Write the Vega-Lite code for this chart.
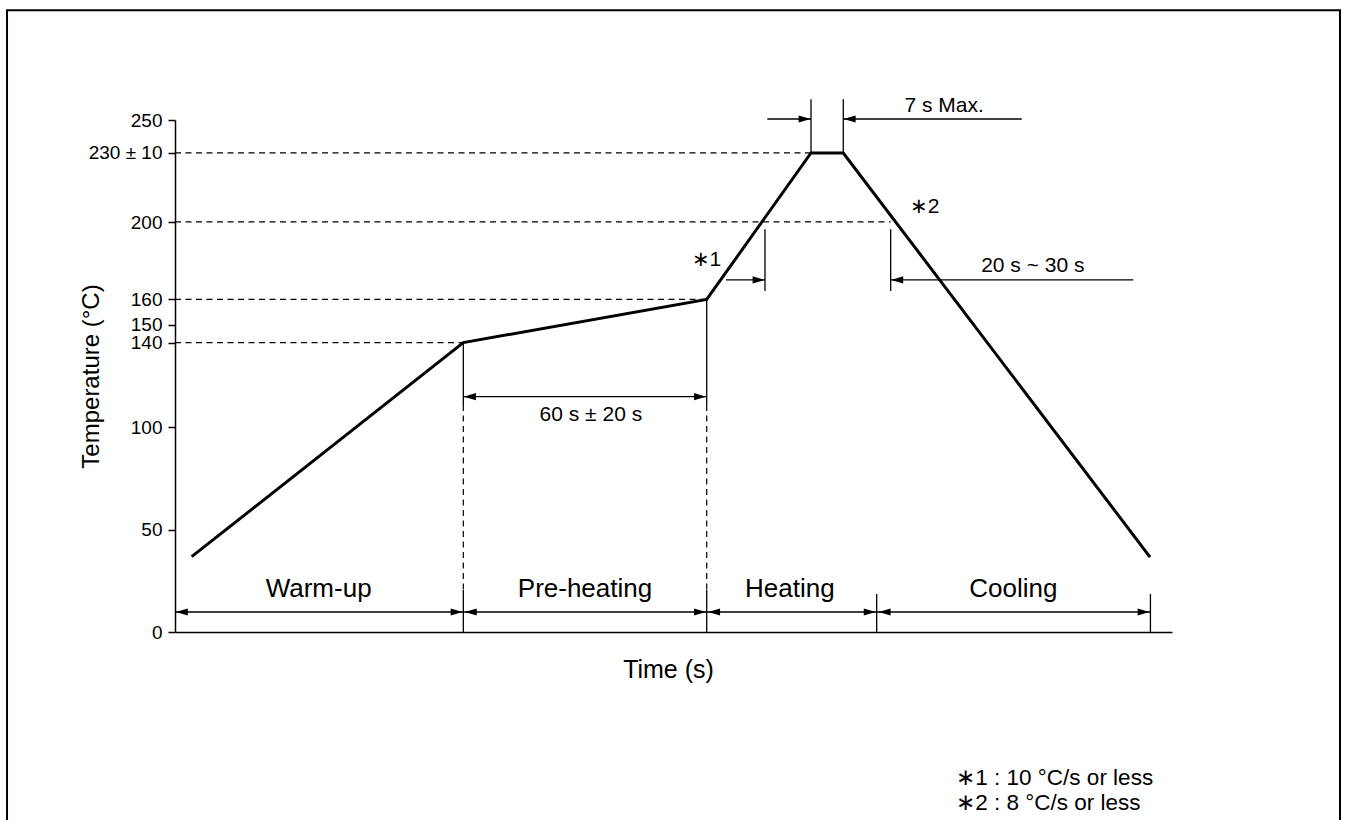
{
  "$schema": "https://vega.github.io/schema/vega-lite/v6.json",
  "width": 997,
  "height": 512,
  "autosize": {"type": "none"},
  "padding": {"left": 175, "top": 120, "right": 174, "bottom": 188},
  "background": "white",
  "config": {
    "view": {"stroke": null},
    "font": "Liberation Sans"
  },
  "datasets": {
    "frame": [{"t": -41.28, "t2": 286.28, "temp": 303.56, "temp2": -96.7}],
    "profile": [
      {"t": 4.10, "temp": 36.77},
      {"t": 70.85, "temp": 141.3},
      {"t": 130.66, "temp": 162.4},
      {"t": 156.29, "temp": 233.9},
      {"t": 164.22, "temp": 233.9},
      {"t": 239.6, "temp": 36.6}
    ],
    "guides": [
      {"t": 0, "t2": 156.29, "temp": 233.9, "temp2": 233.9},
      {"t": 0, "t2": 175.87, "temp": 200.3, "temp2": 200.3},
      {"t": 0, "t2": 130.66, "temp": 162.4, "temp2": 162.4},
      {"t": 0, "t2": 70.85, "temp": 141.3, "temp2": 141.3},
      {"t": 70.85, "t2": 70.85, "temp": 110.8, "temp2": 20.5},
      {"t": 130.66, "t2": 130.66, "temp": 110.8, "temp2": 20.5}
    ],
    "dims": [
      {"t": 0, "t2": 70.85, "temp": 9.77, "temp2": 9.77},
      {"t": 70.85, "t2": 130.66, "temp": 9.77, "temp2": 9.77},
      {"t": 130.66, "t2": 172.43, "temp": 9.77, "temp2": 9.77},
      {"t": 172.43, "t2": 239.7, "temp": 9.77, "temp2": 9.77},
      {"t": 70.85, "t2": 130.66, "temp": 114.9, "temp2": 114.9},
      {"t": 145.55, "t2": 156.29, "temp": 250.5, "temp2": 250.5},
      {"t": 164.22, "t2": 208.07, "temp": 250.5, "temp2": 250.5},
      {"t": 135.40, "t2": 144.98, "temp": 171.9, "temp2": 171.9},
      {"t": 175.87, "t2": 235.49, "temp": 171.9, "temp2": 171.9},
      {"t": 156.29, "t2": 156.29, "temp": 234.2, "temp2": 260.1},
      {"t": 164.22, "t2": 164.22, "temp": 234.2, "temp2": 260.1},
      {"t": 144.98, "t2": 144.98, "temp": 166.5, "temp2": 196.6},
      {"t": 175.87, "t2": 175.87, "temp": 166.5, "temp2": 196.6},
      {"t": 70.85, "t2": 70.85, "temp": 141.3, "temp2": 110.8},
      {"t": 70.85, "t2": 70.85, "temp": 20.5, "temp2": 0},
      {"t": 130.66, "t2": 130.66, "temp": 162.4, "temp2": 110.8},
      {"t": 130.66, "t2": 130.66, "temp": 20.5, "temp2": 0},
      {"t": 172.43, "t2": 172.43, "temp": 18.55, "temp2": 0},
      {"t": 239.7, "t2": 239.7, "temp": 18.55, "temp2": 0}
    ],
    "heads": [
      {"t": 0.2, "temp": 9.77, "dir": "left"},
      {"t": 70.7, "temp": 9.77, "dir": "right"},
      {"t": 71.2, "temp": 9.77, "dir": "left"},
      {"t": 130.5, "temp": 9.77, "dir": "right"},
      {"t": 131.0, "temp": 9.77, "dir": "left"},
      {"t": 172.2, "temp": 9.77, "dir": "right"},
      {"t": 172.9, "temp": 9.77, "dir": "left"},
      {"t": 239.5, "temp": 9.77, "dir": "right"},
      {"t": 71.0, "temp": 114.9, "dir": "left"},
      {"t": 130.5, "temp": 114.9, "dir": "right"},
      {"t": 156.2, "temp": 250.5, "dir": "right"},
      {"t": 164.3, "temp": 250.5, "dir": "left"},
      {"t": 144.9, "temp": 171.9, "dir": "right"},
      {"t": 176.0, "temp": 171.9, "dir": "left"}
    ],
    "labels": [
      {"t": 35.3, "temp": 17.1, "label": "Warm-up", "group": "section"},
      {"t": 100.75, "temp": 17.1, "label": "Pre-heating", "group": "section"},
      {"t": 151.1, "temp": 17.1, "label": "Heating", "group": "section"},
      {"t": 206.0, "temp": 17.1, "label": "Cooling", "group": "section"},
      {"t": 102.2, "temp": 103.0, "label": "60 s ± 20 s", "group": "dim"},
      {"t": 189.0, "temp": 254.1, "label": "7 s Max.", "group": "dim"},
      {"t": 210.8, "temp": 175.6, "label": "20 s ~ 30 s", "group": "dim"},
      {"t": 130.6, "temp": 178.7, "label": "∗1", "group": "dim"},
      {"t": 184.2, "temp": 204.7, "label": "∗2", "group": "dim"},
      {"t": 192.0, "temp": -74.5, "label": "∗1 : 10 °C/s or less", "group": "note"},
      {"t": 192.0, "temp": -86.7, "label": "∗2 : 8 °C/s or less", "group": "note"}
    ]
  },
  "encoding": {
    "x": {
      "field": "t",
      "type": "quantitative",
      "scale": {"domain": [0, 245], "nice": false, "zero": false},
      "axis": {
        "title": "Time (s)",
        "ticks": false,
        "labels": false,
        "grid": false,
        "domainColor": "black",
        "domainWidth": 1.5,
        "titleFontSize": 25,
        "titleFontWeight": "normal",
        "titleColor": "black",
        "titleX": 493,
        "titleY": 45,
        "titleBaseline": "alphabetic"
      }
    },
    "y": {
      "field": "temp",
      "type": "quantitative",
      "scale": {"domain": [0, 250], "nice": false, "zero": false},
      "axis": {
        "title": "Temperature (°C)",
        "values": [0, 50, 100, 141.3, 150, 162.4, 200, 233.9, 250],
        "labelExpr": "datum.value == 141.3 ? '140' : datum.value == 162.4 ? '160' : datum.value == 233.9 ? '230 ± 10' : datum.label",
        "grid": false,
        "domainColor": "black",
        "domainWidth": 1.5,
        "tickColor": "black",
        "tickWidth": 1.5,
        "tickSize": 7,
        "labelFontSize": 19,
        "labelColor": "black",
        "labelPadding": 6,
        "labelFlush": false,
        "labelOverlap": false,
        "titleFontSize": 24,
        "titleFontWeight": "normal",
        "titleColor": "black",
        "titleX": -84,
        "titleY": 256,
        "titleAngle": -90,
        "titleBaseline": "middle",
        "titleAlign": "center"
      }
    }
  },
  "layer": [
    {
      "data": {"name": "frame"},
      "mark": {"type": "rect", "filled": false, "stroke": "black", "strokeWidth": 2},
      "encoding": {"x2": {"field": "t2"}, "y2": {"field": "temp2"}}
    },
    {
      "data": {"name": "guides"},
      "mark": {"type": "rule", "color": "black", "strokeWidth": 1.2, "strokeDash": [6, 4.5]},
      "encoding": {"x2": {"field": "t2"}, "y2": {"field": "temp2"}}
    },
    {
      "data": {"name": "dims"},
      "mark": {"type": "rule", "color": "black", "strokeWidth": 1.3},
      "encoding": {"x2": {"field": "t2"}, "y2": {"field": "temp2"}}
    },
    {
      "data": {"name": "profile"},
      "mark": {"type": "line", "color": "black", "strokeWidth": 3, "strokeJoin": "miter"},
      "encoding": {}
    },
    {
      "data": {"name": "heads"},
      "mark": {"type": "point", "filled": true, "color": "black", "opacity": 1, "strokeWidth": 0, "size": 144},
      "encoding": {
        "shape": {
          "field": "dir",
          "type": "nominal",
          "scale": {"domain": ["right", "left"], "range": ["M0,0L-2,-0.6L-2,0.6Z", "M0,0L2,-0.6L2,0.6Z"]},
          "legend": null
        }
      }
    },
    {
      "data": {"name": "labels"},
      "transform": [{"filter": "datum.group == 'section'"}],
      "mark": {"type": "text", "fontSize": 26, "color": "black", "align": "center", "baseline": "alphabetic"},
      "encoding": {"text": {"field": "label"}}
    },
    {
      "data": {"name": "labels"},
      "transform": [{"filter": "datum.group == 'dim'"}],
      "mark": {"type": "text", "fontSize": 21, "color": "black", "align": "center", "baseline": "alphabetic"},
      "encoding": {"text": {"field": "label"}}
    },
    {
      "data": {"name": "labels"},
      "transform": [{"filter": "datum.group == 'note'"}],
      "mark": {"type": "text", "fontSize": 22.5, "color": "black", "align": "left", "baseline": "alphabetic"},
      "encoding": {"text": {"field": "label"}}
    }
  ]
}
